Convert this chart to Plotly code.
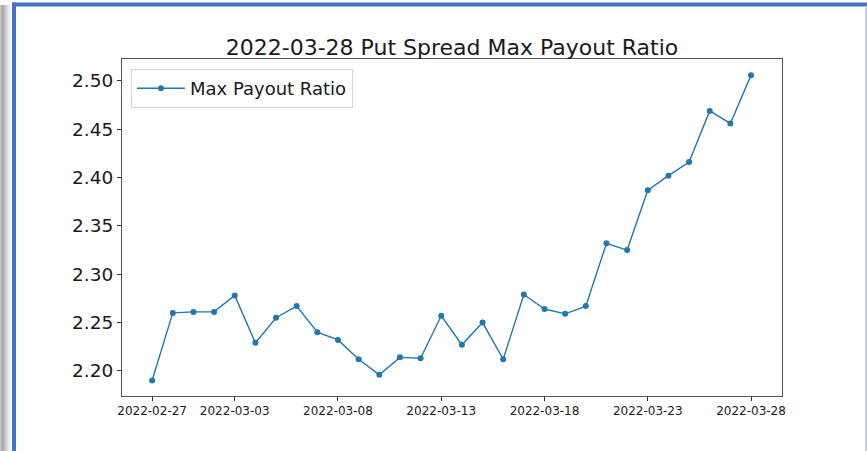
import plotly.graph_objects as go
import pandas as pd

dates = pd.date_range("2022-02-27", "2022-03-28", freq="D").strftime("%Y-%m-%d").tolist()
ratios = [2.190, 2.260, 2.261, 2.261, 2.278, 2.229, 2.255, 2.267, 2.240, 2.232,
          2.212, 2.196, 2.214, 2.213, 2.257, 2.227, 2.250, 2.212, 2.279, 2.264,
          2.259, 2.267, 2.332, 2.325, 2.387, 2.402, 2.416, 2.469, 2.456, 2.506]
x_ticks = ["2022-02-27", "2022-03-03", "2022-03-08", "2022-03-13",
           "2022-03-18", "2022-03-23", "2022-03-28"]
y_ticks = [2.20, 2.25, 2.30, 2.35, 2.40, 2.45, 2.50]
title = "2022-03-28 Put Spread Max Payout Ratio"
series_name = "Max Payout Ratio"

W, H = 867, 451
L, R, T, B = 122, 782, 59, 396

def px(x):
    return (x - L) / (R - L)

def py(y):
    return (B - y) / (B - T)

fig = go.Figure()
fig.add_trace(go.Scatter(
    x=dates, y=ratios, mode="lines+markers", name=series_name,
    line=dict(color="#1f77b4", width=1.4),
    marker=dict(color="#1f77b4", size=6),
))

shapes = []
# grey shadow gradient on the left
greys = ["#c8c8c8", "#b4b4b4", "#aaaaaa", "#b0b0b0", "#bcbcbc", "#c8c8c8",
         "#d4d4d4", "#dedede", "#e8e8e8", "#f0f0f0", "#f6f6f6", "#fbfbfb"]
for i, g in enumerate(greys):
    shapes.append(dict(type="rect", xref="paper", yref="paper",
                       x0=px(i), x1=px(i + 1), y0=py(H + 5), y1=py(5),
                       fillcolor=g, line=dict(width=0), layer="below"))
# blue frame: top and left
shapes.append(dict(type="rect", xref="paper", yref="paper",
                   x0=px(12), x1=px(W + 5), y0=py(6.5), y1=py(2.5),
                   fillcolor="#4472c4", line=dict(width=0)))
shapes.append(dict(type="rect", xref="paper", yref="paper",
                   x0=px(12), x1=px(16), y0=py(H + 5), y1=py(2.5),
                   fillcolor="#4472c4", line=dict(width=0)))
# faint right line
shapes.append(dict(type="rect", xref="paper", yref="paper",
                   x0=px(865), x1=px(867), y0=py(H + 5), y1=py(6.5),
                   fillcolor="#c5d0e6", line=dict(width=0)))

fig.update_layout(
    width=W, height=H,
    margin=dict(l=L, r=W - R, t=T, b=H - B, pad=0),
    paper_bgcolor="white", plot_bgcolor="white",
    font=dict(family="DejaVu Sans", color="#1a1a1a"),
    title=dict(text=title, x=(L + R) / 2 / W, xanchor="center",
               y=1 - 47 / H, yanchor="middle",
               font=dict(size=22, family="DejaVu Sans", color="#1a1a1a")),
    showlegend=True,
    legend=dict(x=px(131), y=py(69), xanchor="left", yanchor="top",
                bgcolor="rgba(255,255,255,0.8)", bordercolor="#d6d6d6", borderwidth=1,
                font=dict(size=18, family="DejaVu Sans", color="#1a1a1a"),
                itemwidth=48),
    shapes=shapes,
)
fig.update_xaxes(
    type="date",
    range=["2022-02-25 13:00", "2022-03-29 12:00"],
    tickvals=x_ticks, ticktext=x_ticks,
    tickfont=dict(size=12, family="DejaVu Sans", color="#1a1a1a"),
    ticks="outside", ticklen=4, tickcolor="#333333", tickwidth=1,
    showgrid=False, zeroline=False,
    showline=True, linecolor="#555555", linewidth=1, mirror=True,
)
fig.update_yaxes(
    range=[2.174, 2.5227],
    tickvals=y_ticks, ticktext=[f"{v:.2f}" for v in y_ticks],
    tickfont=dict(size=18.5, family="DejaVu Sans", color="#1a1a1a"),
    ticks="outside", ticklen=4, tickcolor="#333333", tickwidth=1,
    showgrid=False, zeroline=False,
    showline=True, linecolor="#555555", linewidth=1, mirror=True,
)
fig.write_html("out.html", config={"displayModeBar": False},
               post_script="document.body.style.margin='0';document.body.style.overflow='hidden';")
